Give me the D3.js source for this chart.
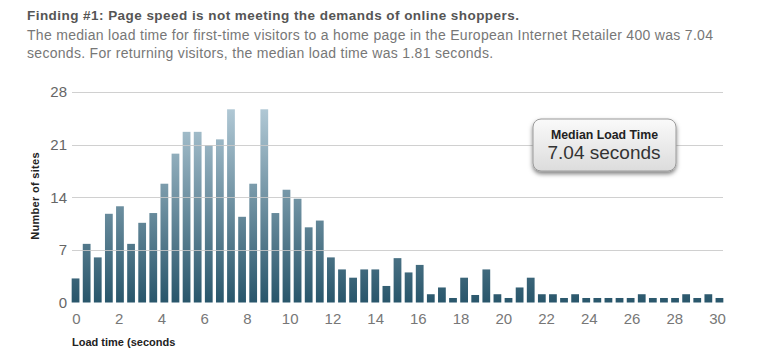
<!DOCTYPE html>
<html>
<head>
<meta charset="utf-8">
<script src="https://cdn.jsdelivr.net/npm/d3@7"></script>
<style>
  body { margin: 0; background: #fff; }
  svg { display: block; font-family: "Liberation Sans", Arial, sans-serif; }
</style>
</head>
<body>
<svg id="chart" width="760" height="361"></svg>
<script>
// number of sites per load-time bin (59 bins spanning 0-30 s)
const siteCounts = [
  3.2, 7.8, 6.0, 11.8, 12.8, 7.8, 10.6, 11.9, 15.8, 19.8,
  22.7, 22.7, 20.9, 21.7, 25.7, 11.4, 15.8, 25.7, 11.9, 15.0,
  13.8, 10.0, 10.9, 6.0, 4.4, 3.3, 4.4, 4.4, 2.2, 5.9,
  4.0, 5.0, 1.1, 2.0, 0.6, 3.3, 1.0, 4.4, 1.1, 0.6,
  2.0, 3.3, 1.1, 1.1, 0.6, 1.1, 0.6, 0.6, 0.6, 0.6,
  0.6, 1.1, 0.6, 0.6, 0.6, 1.1, 0.6, 1.1, 0.6
];
const bins = siteCounts.map((d, i) => i);
const yTicks = [0, 7, 14, 21, 28];
const xTicks = [0, 2, 4, 6, 8, 10, 12, 14, 16, 18, 20, 22, 24, 26, 28, 30];

const title = "Finding #1: Page speed is not meeting the demands of online shoppers.";
const subtitle = [
  "The median load time for first-time visitors to a home page in the European Internet Retailer 400 was 7.04",
  "seconds. For returning visitors, the median load time was 1.81 seconds."
];
const calloutLabel = "Median Load Time";
const calloutValue = "7.04 seconds";

const svg = d3.select("#chart");

const plot = { left: 70, right: 725, top: 92, bottom: 302.5 };

const xBand = d3.scaleBand()
  .domain(bins)
  .range([plot.left, plot.right])
  .paddingInner(0.3)
  .paddingOuter(0.15);

const x = d3.scaleLinear().domain([0, 30]).range([76, 717]);
const y = d3.scaleLinear().domain([0, 28]).range([plot.bottom, plot.top]);

// bar gradient, light at the top of the chart, dark at the baseline
const defs = svg.append("defs");
const grad = defs.append("linearGradient")
  .attr("id", "barGrad")
  .attr("gradientUnits", "userSpaceOnUse")
  .attr("x1", 0).attr("x2", 0)
  .attr("y1", y(28)).attr("y2", y(0));
grad.append("stop").attr("offset", "0%").attr("stop-color", "#bcd2de");
grad.append("stop").attr("offset", "100%").attr("stop-color", "#29566b");

const boxGrad = defs.append("linearGradient")
  .attr("id", "boxGrad")
  .attr("x1", 0).attr("x2", 0).attr("y1", 0).attr("y2", 1);
boxGrad.append("stop").attr("offset", "0%").attr("stop-color", "#fafafa");
boxGrad.append("stop").attr("offset", "100%").attr("stop-color", "#dcdcdc");

const shadow = defs.append("filter").attr("id", "shadow")
  .attr("x", "-20%").attr("y", "-20%").attr("width", "140%").attr("height", "160%");
shadow.append("feDropShadow")
  .attr("dx", 0).attr("dy", 2.5).attr("stdDeviation", 2)
  .attr("flood-color", "#000").attr("flood-opacity", 0.5);

// titles
svg.append("text")
  .attr("x", 27).attr("y", 20)
  .attr("font-size", 13.5).attr("font-weight", "bold")
  .attr("letter-spacing", 0.45)
  .attr("fill", "#555")
  .text(title);

svg.selectAll(".sub")
  .data(subtitle)
  .enter()
  .append("text")
  .attr("class", "sub")
  .attr("x", 27)
  .attr("y", (d, i) => 39.5 + i * 18.5)
  .attr("font-size", 14)
  .attr("letter-spacing", 0.3)
  .attr("fill", "#777")
  .text(d => d);

// bars
svg.selectAll(".bar")
  .data(siteCounts)
  .enter()
  .append("rect")
  .attr("class", "bar")
  .attr("x", (d, i) => xBand(bins[i]))
  .attr("y", d => y(d))
  .attr("width", xBand.bandwidth())
  .attr("height", d => y(0) - y(d))
  .attr("fill", "url(#barGrad)");

// gridlines sit on top of the bars
svg.selectAll(".grid")
  .data(yTicks.filter(d => d > 0))
  .enter()
  .append("line")
  .attr("class", "grid")
  .attr("x1", 72).attr("x2", 723)
  .attr("y1", d => Math.round(y(d)) + 0.5)
  .attr("y2", d => Math.round(y(d)) + 0.5)
  .attr("stroke", "#c8c8c8")
  .attr("stroke-opacity", 0.85)
  .attr("stroke-width", 1.2);

// y axis
const yAxis = d3.axisLeft(y).tickValues(yTicks).tickSize(0).tickPadding(0);
const gy = svg.append("g").attr("transform", "translate(67,0)").call(yAxis);
gy.select(".domain").remove();
gy.selectAll("text")
  .attr("font-family", "Liberation Sans, Arial, sans-serif")
  .attr("font-size", 15)
  .attr("fill", "#666");

svg.append("text")
  .attr("transform", "translate(38.5,196) rotate(-90)")
  .attr("text-anchor", "middle")
  .attr("font-size", 11)
  .attr("font-weight", "bold")
  .attr("letter-spacing", 0.3)
  .attr("fill", "#222")
  .text("Number of sites");

// x axis
const xAxis = d3.axisBottom(x).tickValues(xTicks).tickSize(0).tickPadding(0);
const gx = svg.append("g").attr("transform", "translate(0,313)").call(xAxis);
gx.select(".domain").remove();
gx.selectAll("text")
  .attr("font-family", "Liberation Sans, Arial, sans-serif")
  .attr("font-size", 15)
  .attr("fill", "#777");

svg.append("text")
  .attr("x", 72).attr("y", 345.5)
  .attr("font-size", 11)
  .attr("font-weight", "bold")
  .attr("fill", "#222")
  .text("Load time (seconds");

// median callout
const callout = svg.append("g");
callout.append("rect")
  .attr("x", 533).attr("y", 119)
  .attr("width", 143).attr("height", 52)
  .attr("rx", 8)
  .attr("fill", "url(#boxGrad)")
  .attr("stroke", "#9a9a9a")
  .attr("filter", "url(#shadow)");
callout.append("text")
  .attr("x", 604.5).attr("y", 138.5)
  .attr("text-anchor", "middle")
  .attr("font-size", 12.3)
  .attr("font-weight", "bold")
  .attr("fill", "#222")
  .text(calloutLabel);
callout.append("text")
  .attr("x", 604).attr("y", 158.5)
  .attr("text-anchor", "middle")
  .attr("font-size", 19)
  .attr("fill", "#333")
  .text(calloutValue);
</script>
</body>
</html>
